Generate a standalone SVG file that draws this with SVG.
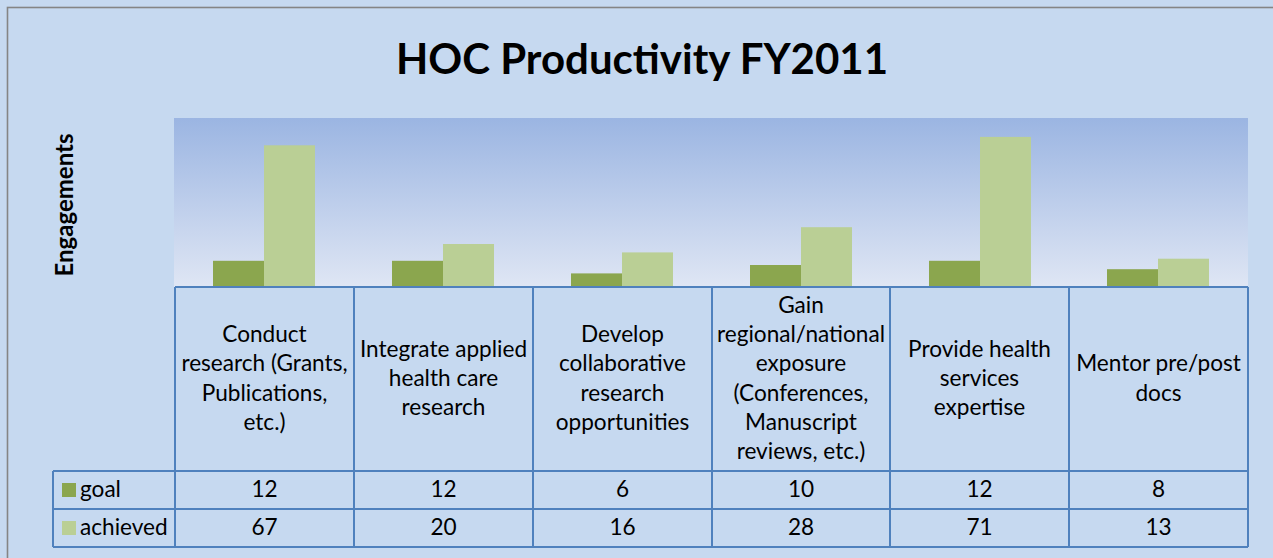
<svg xmlns="http://www.w3.org/2000/svg" width="1273" height="558" viewBox="0 0 1273 558">
<defs>
<linearGradient id="plotg" x1="0" y1="0" x2="0" y2="1">
<stop offset="0" stop-color="#9bb5e2"/>
<stop offset="1" stop-color="#dfe6f4"/>
</linearGradient>
<style>
text{font-family:Lato,"Liberation Sans",sans-serif;fill:#000;}
.cat{font-size:22.6px;text-anchor:middle;}
.val{font-size:22.6px;text-anchor:middle;}
.leg{font-size:22.6px;}
.grid{stroke:#4f81bd;stroke-width:2;fill:none;}
.goal{fill:#8ba64e;}
.ach{fill:#bacf95;}
</style>
</defs>
<rect x="0" y="0" width="1273" height="558" fill="#c6d9f0"/>
<rect x="7.5" y="7.5" width="1280" height="570" fill="#c6d9f0" stroke="#858585" stroke-width="1.6"/>
<text x="642" y="74" font-size="42" font-weight="bold" text-anchor="middle">HOC Productivity FY2011</text>
<text transform="translate(73,205) rotate(-90)" font-size="24" font-weight="bold" text-anchor="middle">Engagements</text>
<rect id="plot" x="174" y="118" width="1074" height="169" fill="url(#plotg)"/>
<g id="bars">
<rect class="goal" x="213" y="260.8" width="51" height="25.2"/>
<rect class="ach" x="264" y="145.3" width="51" height="140.7"/>
<rect class="goal" x="392" y="260.8" width="51" height="25.2"/>
<rect class="ach" x="443" y="244" width="51" height="42"/>
<rect class="goal" x="571" y="273.4" width="51" height="12.6"/>
<rect class="ach" x="622" y="252.4" width="51" height="33.6"/>
<rect class="goal" x="750" y="265" width="51" height="21"/>
<rect class="ach" x="801" y="227.2" width="51" height="58.8"/>
<rect class="goal" x="929" y="260.8" width="51" height="25.2"/>
<rect class="ach" x="980" y="136.9" width="51" height="149.1"/>
<rect class="goal" x="1107" y="269.2" width="51" height="16.8"/>
<rect class="ach" x="1158" y="258.7" width="51" height="27.3"/>
</g>
<g id="table-grid">
<path class="grid" d="M175 287H1248M53 471H1248M53 509H1248M53 547H1248M53 471V547M175 287V547M354 287V547M533 287V547M712 287V547M890 287V547M1069 287V547M1248 287V547"/>
</g>
<g id="cat1">
<text class="cat" x="264.5" y="342">Conduct</text>
<text class="cat" x="264.5" y="371.3">research (Grants,</text>
<text class="cat" x="264.5" y="400.6">Publications,</text>
<text class="cat" x="264.5" y="429.9">etc.)</text>
</g>
<g id="cat2">
<text class="cat" x="443.5" y="356.7">Integrate applied</text>
<text class="cat" x="443.5" y="386">health care</text>
<text class="cat" x="443.5" y="415.3">research</text>
</g>
<g id="cat3">
<text class="cat" x="622.5" y="342">Develop</text>
<text class="cat" x="622.5" y="371.3">collaborative</text>
<text class="cat" x="622.5" y="400.6">research</text>
<text class="cat" x="622.5" y="429.9">opportunities</text>
</g>
<g id="cat4">
<text class="cat" x="801" y="312.7">Gain</text>
<text class="cat" x="801" y="342">regional/national</text>
<text class="cat" x="801" y="371.3">exposure</text>
<text class="cat" x="801" y="400.6">(Conferences,</text>
<text class="cat" x="801" y="429.9">Manuscript</text>
<text class="cat" x="801" y="459.2">reviews, etc.)</text>
</g>
<g id="cat5">
<text class="cat" x="979.5" y="356.7">Provide health</text>
<text class="cat" x="979.5" y="386">services</text>
<text class="cat" x="979.5" y="415.3">expertise</text>
</g>
<g id="cat6">
<text class="cat" x="1158.5" y="371.3">Mentor pre/post</text>
<text class="cat" x="1158.5" y="400.6">docs</text>
</g>
<g id="legend">
<rect class="goal" x="62" y="483" width="14" height="14"/>
<text class="leg" x="80" y="497">goal</text>
<rect class="ach" x="62" y="521" width="14" height="14"/>
<text class="leg" x="80" y="535">achieved</text>
</g>
<g id="values">
<text class="val" x="264.5" y="497">12</text>
<text class="val" x="443.5" y="497">12</text>
<text class="val" x="622.5" y="497">6</text>
<text class="val" x="801" y="497">10</text>
<text class="val" x="979.5" y="497">12</text>
<text class="val" x="1158.5" y="497">8</text>
<text class="val" x="264.5" y="535">67</text>
<text class="val" x="443.5" y="535">20</text>
<text class="val" x="622.5" y="535">16</text>
<text class="val" x="801" y="535">28</text>
<text class="val" x="979.5" y="535">71</text>
<text class="val" x="1158.5" y="535">13</text>
</g>
</svg>
